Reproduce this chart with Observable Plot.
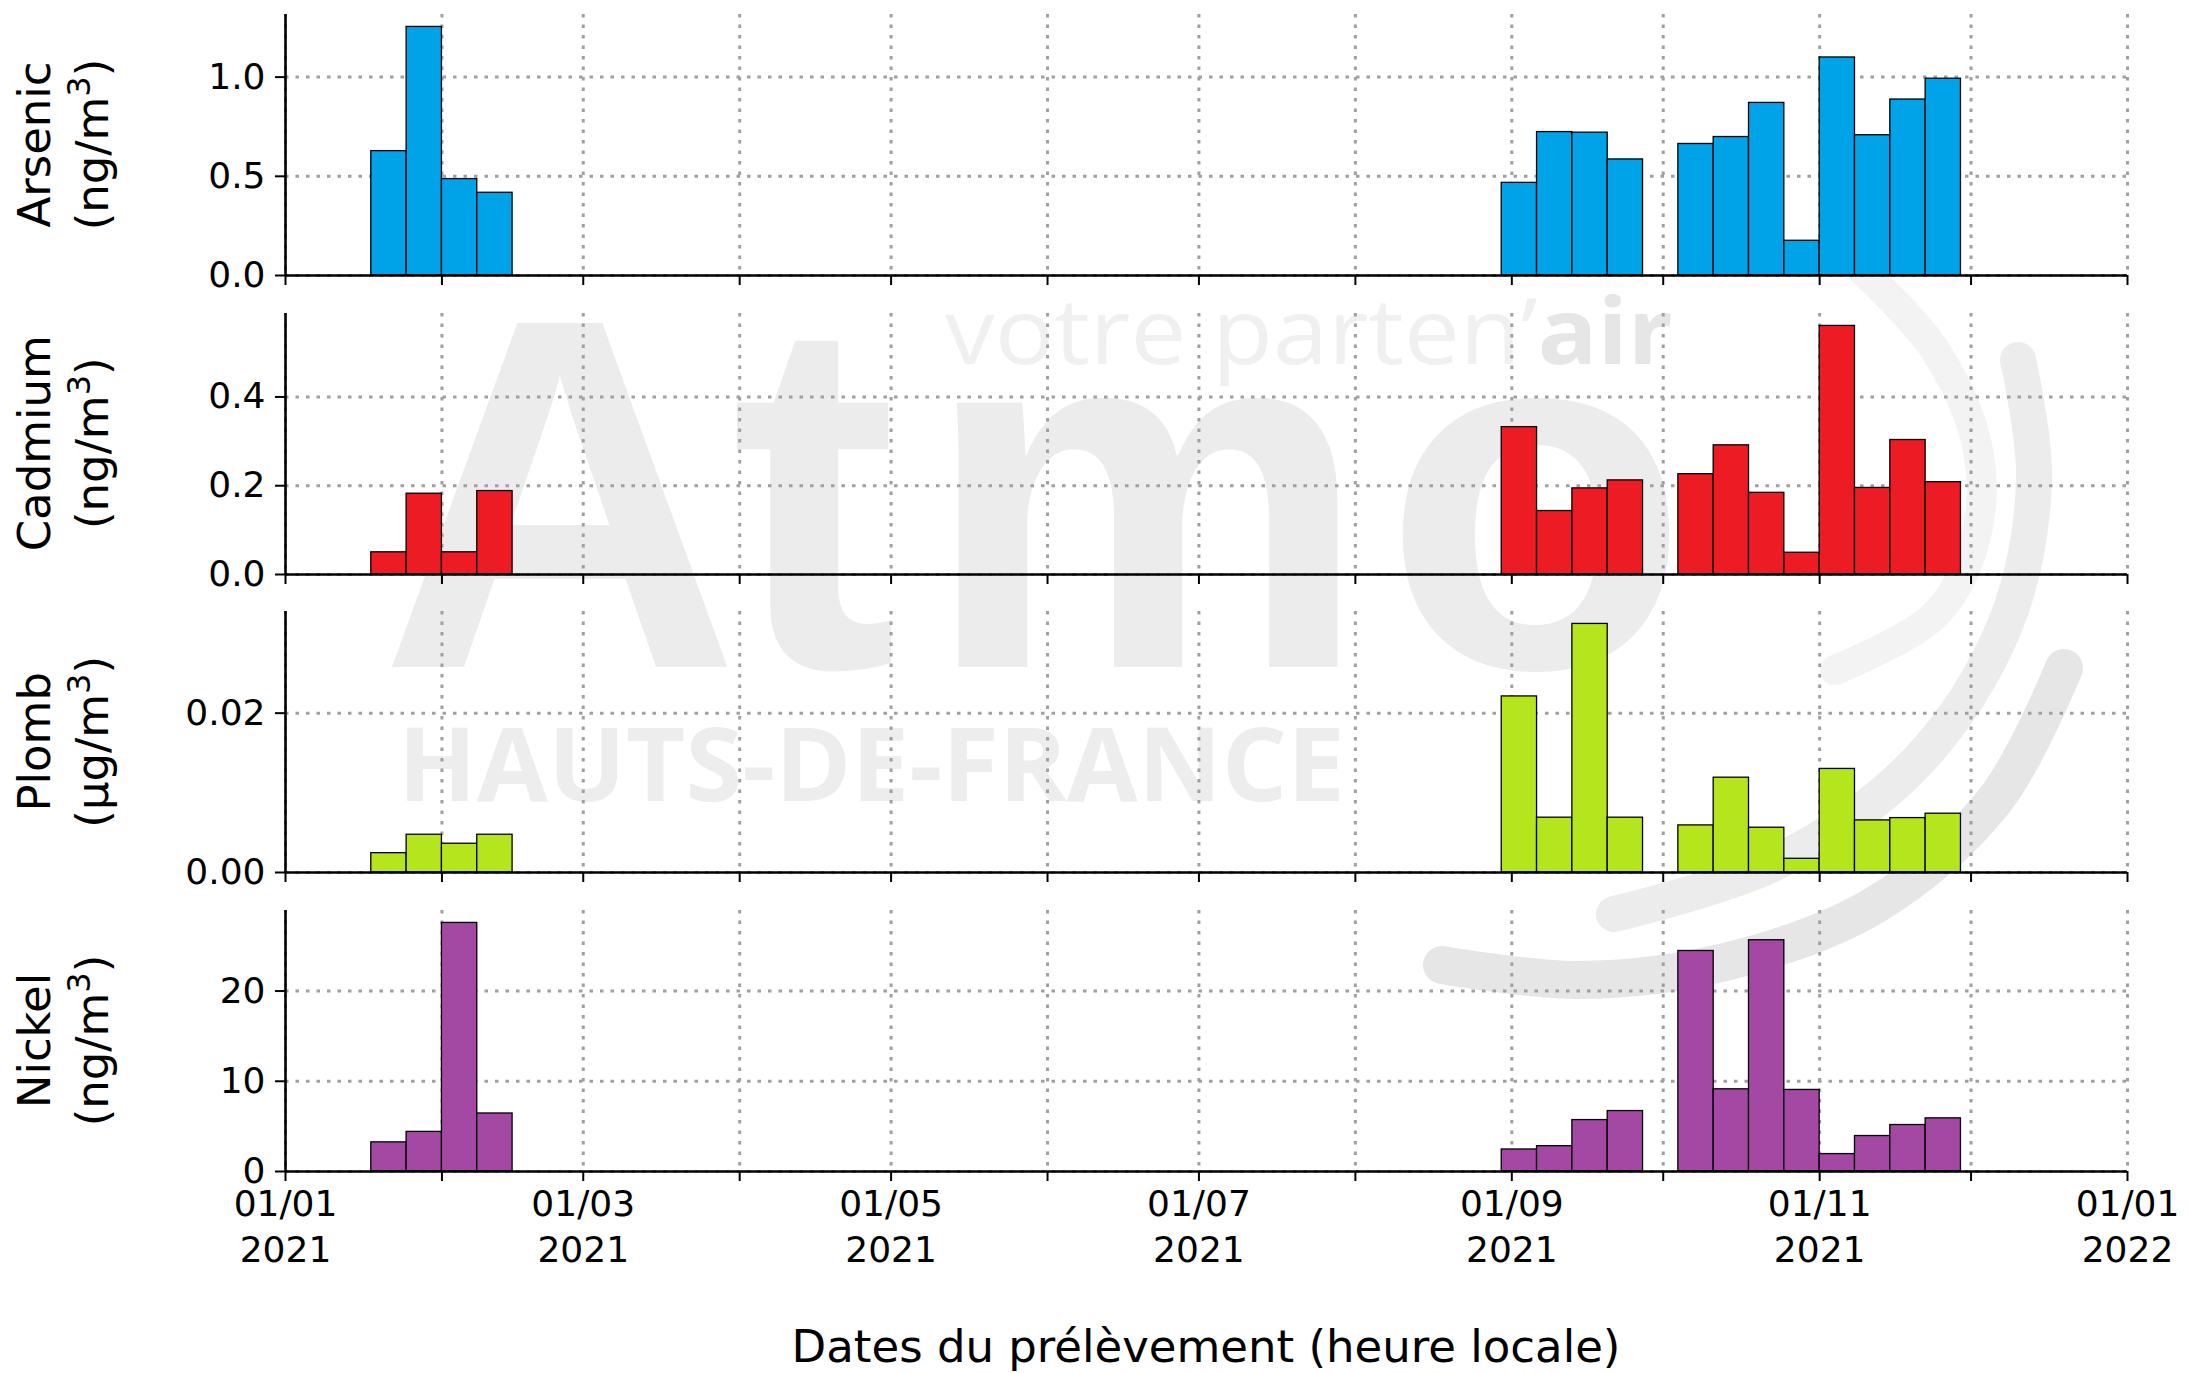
<!DOCTYPE html>
<html><head><meta charset="utf-8">
<script src="https://cdn.jsdelivr.net/npm/d3@7"></script>
<script src="https://cdn.jsdelivr.net/npm/@observablehq/plot@0.6"></script>
<style>
html,body{margin:0;padding:0;background:#fff;}
#root{position:relative;width:2188px;height:1373px;overflow:hidden;font-family:"DejaVu Sans",sans-serif;}
#root svg{position:absolute;left:0;}
</style></head><body><div id="root"></div>
<script>
// ---------- data ----------
const weekStarts = ["2021-01-18","2021-01-25","2021-02-01","2021-02-08",
  "2021-08-30","2021-09-06","2021-09-13","2021-09-20",
  "2021-10-04","2021-10-11","2021-10-18","2021-10-25","2021-11-01","2021-11-08","2021-11-15","2021-11-22"];
const arsenic = [0.627,1.253,0.486,0.417, 0.467,0.723,0.720,0.585, 0.663,0.698,0.870,0.175,1.099,0.707,0.887,0.992];
const cadmium = [0.050,0.182,0.050,0.188, 0.332,0.143,0.194,0.212, 0.226,0.291,0.184,0.049,0.560,0.195,0.303,0.208];
const plomb   = [0.00243,0.00474,0.00361,0.00474, 0.0221,0.00688,0.0312,0.00688, 0.00591,0.0119,0.00562,0.00172,0.0130,0.00654,0.00683,0.00738];
const nickel  = [3.23,4.39,27.55,6.43, 2.44,2.81,5.70,6.70, 24.44,9.11,25.63,9.04,1.93,3.93,5.15,5.89];

const names  = ["Arsenic","Cadmium","Plomb","Nickel"];
const units  = ["ng/m","ng/m","µg/m","ng/m"];
const series = [arsenic, cadmium, plomb, nickel];
const colors = ["#00a2e8","#ed1c24","#b5e61d","#a349a4"];
const yTicks = [[0,0.5,1.0],[0,0.2,0.4],[0,0.02],[0,10,20]];
const yFormats = [".1f",".1f",".2f","d"];
const xStart = "2021-01-01", xEnd = "2022-01-01";
const xTitle = "Dates du prélèvement (heure locale)";

// ---------- layout ----------
const W = 2188, H = 1373, ML = 285, MR = 61, PH = 261;
const panelTops = [14, 312.7, 611.3, 910];
const root = d3.select("#root");
const utc = s => new Date(s + "T00:00:00Z");
const d0 = utc(xStart), d1 = utc(xEnd);
const months = d3.utcMonth.range(d0, d3.utcDay.offset(d1, 1));

// ---------- watermark (background decoration) ----------
const bg = root.append("svg").attr("width", W).attr("height", H).style("top", "0px");
const atmo = [["A",560],["t",814],["m",1146],["o",1536]];
atmo.forEach(([ch, cx]) => bg.append("text").attr("x", cx).attr("y", 667)
  .attr("text-anchor","middle").attr("font-family","Liberation Sans").attr("font-weight","bold")
  .attr("font-size", 500).attr("fill","#ececec").text(ch));
const tag = bg.append("text").attr("x", 945).attr("y", 364).attr("font-family","Open Sans")
  .attr("font-size", 92).attr("textLength", 728).attr("lengthAdjust","spacingAndGlyphs");
tag.append("tspan").attr("fill","#f0f0f0").text("votre parten’");
tag.append("tspan").attr("fill","#e6e6e6").attr("font-weight","bold").text("air");
bg.append("text").attr("x", 398).attr("y", 801).attr("font-family","Open Sans").attr("font-weight","bold")
  .attr("font-size", 102).attr("textLength", 947).attr("lengthAdjust","spacingAndGlyphs")
  .attr("fill","#ededed").text("HAUTS-DE-FRANCE");
const arcLine = d3.line().curve(d3.curveCatmullRom);
const arcs = [
  {pts:[[1862,270],[1935,350],[1978,450],[1975,540],[1935,615],[1835,670]], w:30, c:"#f3f3f3"},
  {pts:[[2018,360],[2034,480],[2005,625],[1917,762],[1777,862],[1614,914]], w:36, c:"#ececec"},
  {pts:[[2064,668],[1995,800],[1875,905],[1725,962],[1578,980],[1442,965]], w:38, c:"#e6e6e6"}
];
arcs.forEach(a => bg.append("path").attr("d", arcLine(a.pts)).attr("fill","none")
  .attr("stroke", a.c).attr("stroke-width", a.w).attr("stroke-linecap","round"));

// ---------- panels ----------
const gridStyle = {stroke:"#a0a0a0", strokeOpacity:1, strokeWidth:3, strokeDasharray:"3.5,7"};
const xLabel = d => d.getUTCMonth() % 2 === 0
  ? d3.utcFormat("%d/%m")(d) + "\n" + d3.utcFormat("%Y")(d) : "";

series.forEach((vals, i) => {
  const isLast = i === series.length - 1;
  const mt = 10, mb = isLast ? 120 : 24;
  const data = weekStarts.map((s, j) => ({start: utc(s), end: d3.utcDay.offset(utc(s), 7), value: vals[j]}));
  const chart = Plot.plot({
    width: W, height: PH + mt + mb,
    marginLeft: ML, marginRight: MR, marginTop: mt, marginBottom: mb,
    style: {background: "transparent", fontFamily: "DejaVu Sans", fontSize: "36px", color: "black", overflow: "visible"},
    x: {type: "utc", domain: [d0, d1]},
    y: {domain: [0, d3.max(vals) * 1.05]},
    marks: [
      Plot.gridX(months, gridStyle),
      Plot.gridY(yTicks[i], gridStyle),
      Plot.rect(data, {x1: "start", x2: "end", y1: 0, y2: "value", fill: colors[i], stroke: "black", strokeWidth: 1.3}),
      Plot.ruleY([0], {stroke: "black", strokeWidth: 2.6}),
      Plot.ruleX([d0], {stroke: "black", strokeWidth: 2.6}),
      Plot.axisY(yTicks[i], {tickSize: 10, tickPadding: 10, tickFormat: d3.format(yFormats[i]), label: null, strokeWidth: 2, fontSize: 36}),
      Plot.axisX(months, {tickSize: 10, tickPadding: 2, tickFormat: isLast ? xLabel : () => "", label: null, strokeWidth: 2, fontSize: 36, lineHeight: 1.28})
    ]
  });
  chart.style.top = (panelTops[i] - mt) + "px";
  root.node().appendChild(chart);
});

// ---------- labels ----------
const fg = root.append("svg").attr("width", W).attr("height", H).style("top", "0px").style("pointer-events","none");
names.forEach((n, i) => {
  const yc = panelTops[i] + PH / 2;
  fg.append("text").attr("transform", `translate(50,${yc}) rotate(-90)`).attr("text-anchor","middle")
    .attr("font-family","DejaVu Sans").attr("font-size",45).attr("fill","black").text(n);
  const t = fg.append("text").attr("transform", `translate(108,${yc}) rotate(-90)`).attr("text-anchor","middle")
    .attr("font-family","DejaVu Sans").attr("font-size",45).attr("fill","black");
  t.append("tspan").text("(" + units[i]);
  t.append("tspan").attr("font-size",32).attr("dy",-18).text("3");
  t.append("tspan").attr("dy",18).text(")");
});
fg.append("text").attr("x", (ML + W - MR) / 2).attr("y", 1362).attr("text-anchor","middle")
  .attr("font-family","DejaVu Sans").attr("font-size",45).attr("fill","black").text(xTitle);
</script></body></html>
